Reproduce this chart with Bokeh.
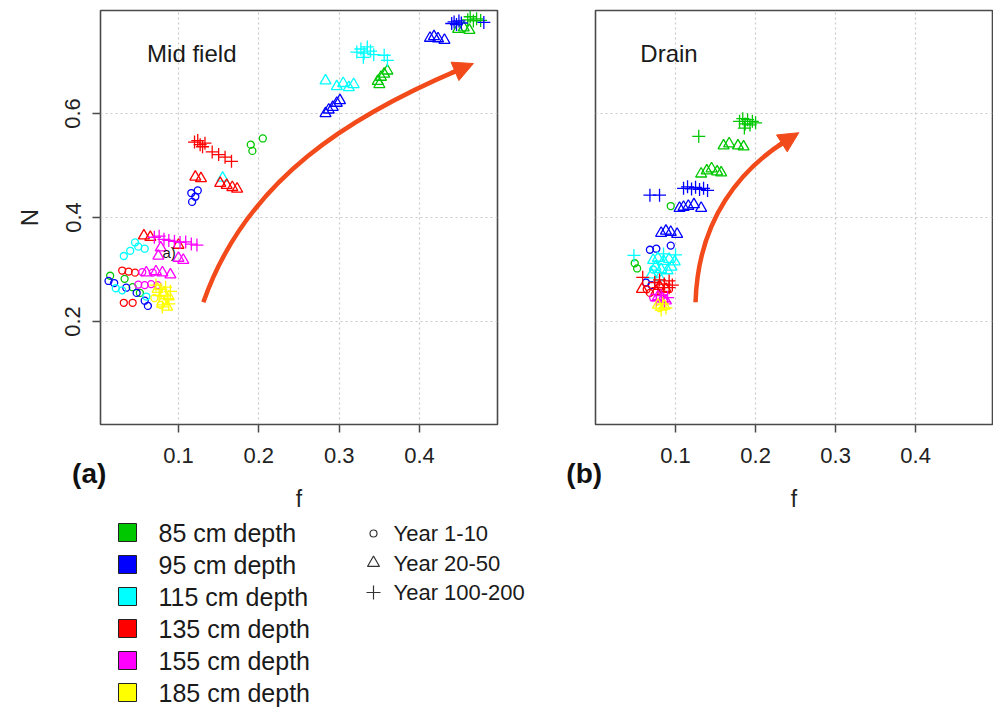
import math
from bokeh.plotting import figure
from bokeh.models import (ColumnDataSource, FixedTicker, Range1d, Label, Arrow, NormalHead, Grid,
                          LinearAxis)
from bokeh.layouts import column, row
from bokeh.embed import file_html
from bokeh.resources import INLINE
from bokeh.core.properties import value

FONT = "Liberation Sans"
NBSP = "\u00a0"

# ---------------- categories ----------------
depths = [85, 95, 115, 135, 155, 185]
depth_labels = ["85 cm depth", "95 cm depth", "115 cm depth", "135 cm depth", "155 cm depth", "185 cm depth"]
depth_colors = ["#00C800", "#0000FF", "#00FFFF", "#FF0000", "#FF00FF", "#FFFF00"]
period_labels = ["Year 1-10", "Year 20-50", "Year 100-200"]
period_markers = ["circle", "triangle", "cross"]
period_sizes = [7, 11, 13]

x_ticks = [0.1, 0.2, 0.3, 0.4]
y_ticks = [0.2, 0.4, 0.6]

# ---------------- Mid field (a) ----------------
# period index: 0 = Year 1-10, 1 = Year 20-50, 2 = Year 100-200
mid_f = [
    # 85 cm
    0.190, 0.192, 0.205, 0.015, 0.033, 0.043, 0.052,
    0.348, 0.352, 0.356, 0.360, 0.350, 0.448, 0.455, 0.462,
    0.460, 0.463, 0.467, 0.471, 0.476,
    # 95 cm
    0.116, 0.121, 0.117, 0.124, 0.013, 0.020, 0.035, 0.048, 0.058, 0.062,
    0.413, 0.418, 0.423, 0.431, 0.283, 0.287, 0.292, 0.297, 0.301,
    0.440, 0.443, 0.446, 0.449, 0.452, 0.480,
    # 115 cm
    0.046, 0.050, 0.040, 0.032, 0.058, 0.022, 0.030, 0.060,
    0.283, 0.297, 0.305, 0.312, 0.318, 0.155,
    0.322, 0.327, 0.331, 0.335, 0.339, 0.343, 0.330, 0.356, 0.360,
    # 135 cm
    0.030, 0.038, 0.046, 0.032, 0.043,
    0.121, 0.128, 0.152, 0.160, 0.167, 0.173, 0.057, 0.065, 0.100,
    0.120, 0.124, 0.127, 0.130, 0.133, 0.142, 0.150, 0.158, 0.166,
    # 155 cm
    0.050, 0.058, 0.066, 0.074, 0.055, 0.068,
    0.075, 0.100, 0.106, 0.060, 0.072, 0.080, 0.090, 0.078,
    0.070, 0.076, 0.082, 0.088, 0.095, 0.102, 0.109, 0.116, 0.123,
    # 185 cm
    0.070, 0.078,
    0.074, 0.082, 0.088, 0.080, 0.086,
    0.072, 0.078, 0.084, 0.090, 0.076, 0.086, 0.080, 0.088,
]
mid_n = [
    0.540, 0.528, 0.552, 0.288, 0.282, 0.266, 0.255,
    0.662, 0.670, 0.676, 0.682, 0.656, 0.762, 0.765, 0.760,
    0.780, 0.786, 0.778, 0.782, 0.779,
    0.447, 0.440, 0.430, 0.452, 0.278, 0.274, 0.265, 0.255, 0.240, 0.230,
    0.745, 0.748, 0.744, 0.741, 0.600, 0.607, 0.612, 0.620, 0.625,
    0.773, 0.776, 0.771, 0.778, 0.774, 0.775,
    0.352, 0.344, 0.336, 0.326, 0.340, 0.264, 0.260, 0.248,
    0.663, 0.652, 0.658, 0.650, 0.656, 0.476,
    0.718, 0.724, 0.716, 0.728, 0.720, 0.713, 0.708, 0.712, 0.702,
    0.298, 0.296, 0.294, 0.236, 0.236,
    0.478, 0.475, 0.466, 0.462, 0.458, 0.455, 0.365, 0.362, 0.347,
    0.545, 0.548, 0.540, 0.536, 0.543, 0.526, 0.521, 0.516, 0.508,
    0.271, 0.270, 0.272, 0.270, 0.295, 0.294,
    0.326, 0.322, 0.318, 0.294, 0.296, 0.294, 0.290, 0.342,
    0.362, 0.364, 0.358, 0.356, 0.354, 0.352, 0.353, 0.349, 0.347,
    0.245, 0.232,
    0.262, 0.255, 0.248, 0.238, 0.228,
    0.270, 0.262, 0.266, 0.258, 0.250, 0.244, 0.228, 0.234,
]
mid_depth = ([85] * 20 + [95] * 25 + [115] * 23 + [135] * 23 + [155] * 23 + [185] * 15)
mid_period = (
    [0] * 7 + [1] * 8 + [2] * 5 +
    [0] * 10 + [1] * 9 + [2] * 6 +
    [0] * 8 + [1] * 6 + [2] * 9 +
    [0] * 5 + [1] * 9 + [2] * 9 +
    [0] * 6 + [1] * 8 + [2] * 9 +
    [0] * 2 + [1] * 5 + [2] * 8
)

# ---------------- Drain (b) ----------------
drain_f = [
    # 85 cm
    0.094, 0.049, 0.052,
    0.160, 0.167, 0.178, 0.185, 0.132, 0.139, 0.145, 0.152, 0.157,
    0.129, 0.180, 0.184, 0.187, 0.190, 0.193, 0.196, 0.200, 0.186,
    # 95 cm
    0.068, 0.076, 0.094, 0.063, 0.070,
    0.105, 0.110, 0.116, 0.123, 0.132, 0.082, 0.088, 0.094, 0.102,
    0.068, 0.080, 0.110, 0.115, 0.120, 0.125, 0.130, 0.135, 0.140,
    # 115 cm
    0.072, 0.078,
    0.072, 0.078, 0.085, 0.092, 0.099, 0.075, 0.082, 0.090, 0.070, 0.080, 0.095,
    0.048, 0.100, 0.085,
    # 135 cm
    0.064, 0.068,
    0.058, 0.080, 0.088, 0.076,
    0.059, 0.074, 0.080, 0.086, 0.092, 0.078, 0.085, 0.092, 0.096,
    # 155 cm
    0.072,
    0.078, 0.084, 0.088,
    0.076, 0.082, 0.086, 0.090,
    # 185 cm
    0.080,
    0.078, 0.086,
    0.082, 0.088, 0.084,
]
drain_n = [
    0.422, 0.312, 0.302,
    0.538, 0.542, 0.538, 0.536, 0.484, 0.490, 0.494, 0.488, 0.486,
    0.556, 0.585, 0.590, 0.580, 0.588, 0.578, 0.585, 0.582, 0.572,
    0.338, 0.340, 0.346, 0.275, 0.270,
    0.418, 0.420, 0.422, 0.425, 0.418, 0.370, 0.374, 0.372, 0.368,
    0.443, 0.443, 0.456, 0.459, 0.455, 0.458, 0.454, 0.456, 0.452,
    0.300, 0.292,
    0.318, 0.322, 0.316, 0.320, 0.315, 0.305, 0.300, 0.298, 0.290, 0.285, 0.305,
    0.327, 0.328, 0.330,
    0.262, 0.255,
    0.262, 0.268, 0.262, 0.258,
    0.285, 0.275, 0.280, 0.272, 0.278, 0.265, 0.258, 0.265, 0.270,
    0.246,
    0.248, 0.244, 0.240,
    0.240, 0.250, 0.238, 0.246,
    0.226,
    0.232, 0.230,
    0.222, 0.226, 0.234,
]
drain_depth = ([85] * 21 + [95] * 23 + [115] * 16 + [135] * 15 + [155] * 8 + [185] * 6)
drain_period = (
    [0] * 3 + [1] * 9 + [2] * 9 +
    [0] * 5 + [1] * 9 + [2] * 9 +
    [0] * 2 + [1] * 11 + [2] * 3 +
    [0] * 2 + [1] * 4 + [2] * 9 +
    [0] * 1 + [1] * 3 + [2] * 4 +
    [0] * 1 + [1] * 2 + [2] * 3
)

# trend arrows (start, control 1, control 2, tip) in data units
mid_arrow = [(0.131, 0.237), (0.185, 0.477), (0.318, 0.598), (0.467, 0.696)]
drain_arrow = [(0.125, 0.237), (0.128, 0.400), (0.184, 0.495), (0.254, 0.563)]

ARROW_COLOR = "#F24A1A"


def make_source(fs, ns, ds, ps):
    return ColumnDataSource(dict(
        f=fs, N=ns,
        color=[depth_colors[depths.index(d)] for d in ds],
        marker=[period_markers[p] for p in ps],
        size=[period_sizes[p] for p in ps],
    ))


def style(p, show_y, panel_tag):
    p.outline_line_color = "#4a4a4a"
    p.outline_line_width = 1.6
    p.outline_line_alpha = 1.0
    p.xaxis.ticker = FixedTicker(ticks=x_ticks)
    p.xaxis.axis_line_color = None
    p.xaxis.major_tick_out = 8
    p.xaxis.major_tick_in = 0
    p.xaxis.minor_tick_line_color = None
    p.xaxis.major_tick_line_color = "#4a4a4a"
    p.xaxis.major_tick_line_width = 1.5
    p.xaxis.major_label_text_font = FONT
    p.xaxis.major_label_text_font_size = "22px"
    p.xaxis.major_label_text_color = "#222222"
    p.xaxis.major_label_standoff = 15
    p.xgrid.grid_line_color = None
    p.ygrid.grid_line_color = None
    p.add_layout(Grid(dimension=0, ticker=FixedTicker(ticks=x_ticks), grid_line_color="#c8c8c8",
                      grid_line_dash="2 3", grid_line_width=1.2))
    p.add_layout(Grid(dimension=1, ticker=FixedTicker(ticks=y_ticks), grid_line_color="#c8c8c8",
                      grid_line_dash="2 3", grid_line_width=1.2))

    # second bottom axis: panel tag "(a)"/"(b)" at the frame's left edge and the "f" title
    p.extra_x_ranges = {"tag": Range1d(-0.001, 1.0)}
    ax2 = LinearAxis(x_range_name="tag", ticker=FixedTicker(ticks=[0]),
                     major_label_overrides={0: panel_tag + NBSP * 3})
    ax2.axis_line_color = None
    ax2.major_tick_line_color = None
    ax2.minor_tick_line_color = None
    ax2.major_tick_out = 0
    ax2.major_tick_in = 0
    ax2.major_label_text_font = FONT
    ax2.major_label_text_font_size = "28px"
    ax2.major_label_text_font_style = "bold"
    ax2.major_label_text_color = "#111111"
    ax2.major_label_standoff = -8
    ax2.axis_label = "f"
    ax2.axis_label_text_font = FONT
    ax2.axis_label_text_font_size = "23px"
    ax2.axis_label_text_font_style = "normal"
    ax2.axis_label_text_color = "#222222"
    ax2.axis_label_standoff = -6
    p.add_layout(ax2, "below")

    if show_y:
        p.yaxis.ticker = FixedTicker(ticks=y_ticks)
        p.yaxis.axis_line_color = None
        p.yaxis.major_tick_out = 8
        p.yaxis.major_tick_in = 0
        p.yaxis.minor_tick_line_color = None
        p.yaxis.major_tick_line_color = "#4a4a4a"
        p.yaxis.major_tick_line_width = 1.5
        p.yaxis.major_label_orientation = "vertical"
        p.yaxis.major_label_text_font = FONT
        p.yaxis.major_label_text_font_size = "22px"
        p.yaxis.major_label_text_color = "#222222"
        p.yaxis.major_label_standoff = 12
        p.yaxis.axis_label = "N"
        p.yaxis.axis_label_text_font = FONT
        p.yaxis.axis_label_text_font_size = "24px"
        p.yaxis.axis_label_text_font_style = "normal"
        p.yaxis.axis_label_text_color = "#222222"
        p.yaxis.axis_label_standoff = 20


def draw_arrow(p, pts, px_per_x, px_per_y):
    (x0, y0), (c1x, c1y), (c2x, c2y), (tx, ty) = pts
    dx = (tx - c2x) * px_per_x
    dy = (ty - c2y) * px_per_y
    L = math.hypot(dx, dy)
    k = 16.0 / L
    ex = tx - k * (tx - c2x)
    ey = ty - k * (ty - c2y)
    p.bezier(x0=[x0], y0=[y0], x1=[ex], y1=[ey], cx0=[c1x], cy0=[c1y], cx1=[c2x], cy1=[c2y],
             line_color=ARROW_COLOR, line_width=4.5)
    p.add_layout(Arrow(end=NormalHead(size=20, fill_color=ARROW_COLOR, line_color=ARROW_COLOR, line_width=1),
                       x_start=ex - 0.5 * (tx - ex), y_start=ey - 0.5 * (ty - ey), x_end=tx, y_end=ty,
                       line_color=ARROW_COLOR, line_width=4.5))


# ---------------- panel (a) ----------------
pa = figure(width=560, height=515, x_range=Range1d(0.003, 0.497), y_range=Range1d(0.002, 0.798),
            min_border_left=100, min_border_right=63, min_border_top=10, min_border_bottom=91,
            output_backend="svg", toolbar_location=None, background_fill_color="white",
            border_fill_color="white")
style(pa, True, "(a)")
pa.scatter(x="f", y="N", marker="marker", size="size", line_color="color", fill_color=None,
           line_width=1.3, source=make_source(mid_f, mid_n, mid_depth, mid_period))
draw_arrow(pa, mid_arrow, 397 / 0.494, 414 / 0.796)
pa.add_layout(Label(x=0.061, y=0.715, text="Mid field", text_font=FONT, text_font_size="24px",
                    text_color="#1a1a1a", text_baseline="alphabetic"))
pa.add_layout(Label(x=0.080, y=0.333, text="a)", text_font=FONT, text_font_size="15px",
                    text_color="#1a1a1a", text_baseline="alphabetic"))

# ---------------- panel (b) ----------------
pb = figure(width=433, height=515, x_range=Range1d(0.0, 0.496), y_range=Range1d(0.002, 0.798),
            min_border_left=35, min_border_right=1, min_border_top=10, min_border_bottom=91,
            y_axis_location=None, output_backend="svg", toolbar_location=None,
            background_fill_color="white", border_fill_color="white")
style(pb, False, "(b)")
pb.scatter(x="f", y="N", marker="marker", size="size", line_color="color", fill_color=None,
           line_width=1.3, source=make_source(drain_f, drain_n, drain_depth, drain_period))
draw_arrow(pb, drain_arrow, 397 / 0.496, 414 / 0.796)
pb.add_layout(Label(x=0.056, y=0.715, text="Drain", text_font=FONT, text_font_size="24px",
                    text_color="#1a1a1a", text_baseline="alphabetic"))

# ---------------- legend strip (pixel coordinates) ----------------
pl = figure(width=993, height=193, x_range=Range1d(0, 993), y_range=Range1d(708, 515),
            min_border=0, x_axis_location=None, y_axis_location=None,
            output_backend="svg", toolbar_location=None, outline_line_color=None,
            background_fill_color="white", border_fill_color="white")
pl.xgrid.grid_line_color = None
pl.ygrid.grid_line_color = None

row_y = [532 + 32.0 * i for i in range(len(depth_labels))]
pl.scatter(x=[127] * len(depth_labels), y=row_y, marker="square", size=18,
           fill_color=depth_colors, line_color="#222222", line_width=1)
pl.text(x=[158] * len(depth_labels), y=row_y, text=depth_labels, text_font=value(FONT),
        text_font_size="25px", text_baseline="middle", text_color="#1a1a1a")

per_y = [533 + 29.5 * i for i in range(len(period_labels))]
pl.scatter(x=[373] * 3, y=per_y, marker=period_markers, size=[7, 12, 14], fill_color=None,
           line_color="#333333", line_width=1.2)
pl.text(x=[393] * 3, y=per_y, text=period_labels, text_font=value(FONT),
        text_font_size="22px", text_baseline="middle", text_color="#1a1a1a")

layout = column(row(pa, pb), pl)
open("out.html", "w").write(file_html(layout, INLINE))
